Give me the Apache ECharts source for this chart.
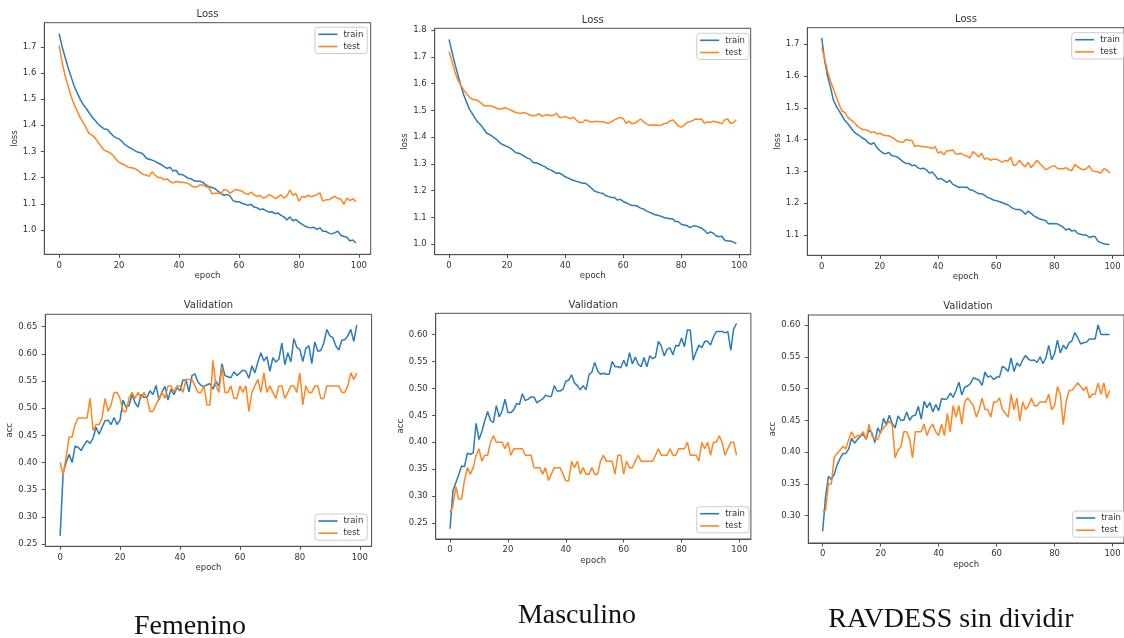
<!DOCTYPE html>
<html><head><meta charset="utf-8">
<script src="https://cdn.jsdelivr.net/npm/echarts@6/dist/echarts.min.js"></script>
<style>html,body{margin:0;padding:0;background:#fff}#c{width:1124px;height:638px}</style>
</head><body><div id="c"></div>
<script>
// ---------- data ----------
const xTicks = [0, 20, 40, 60, 80, 100];
const lossTicksFem = [1.0, 1.1, 1.2, 1.3, 1.4, 1.5, 1.6, 1.7];
const lossTicksMas = [1.0, 1.1, 1.2, 1.3, 1.4, 1.5, 1.6, 1.7, 1.8];
const lossTicksRav = [1.1, 1.2, 1.3, 1.4, 1.5, 1.6, 1.7];
const accTicksFem = [0.25, 0.30, 0.35, 0.40, 0.45, 0.50, 0.55, 0.60, 0.65];
const accTicksMas = [0.25, 0.30, 0.35, 0.40, 0.45, 0.50, 0.55, 0.60];
const accTicksRav = [0.30, 0.35, 0.40, 0.45, 0.50, 0.55, 0.60];
const seriesNames = ['train', 'test'];
const panelTitles = ['Loss', 'Loss', 'Loss', 'Validation', 'Validation', 'Validation'];
const yNames = ['loss', 'loss', 'loss', 'acc', 'acc', 'acc'];
const captions = ['Femenino', 'Masculino', 'RAVDESS sin dividir'];

const femLossTrain = [1.75,1.70,1.66,1.62,1.585,1.55,1.525,1.50,1.48,1.465,
1.448,1.432,1.418,1.405,1.395,1.386,1.385,1.372,1.36,1.352,
1.348,1.338,1.326,1.318,1.312,1.305,1.298,1.296,1.29,1.275,
1.27,1.267,1.262,1.256,1.25,1.242,1.235,1.24,1.225,1.228,
1.212,1.212,1.206,1.198,1.196,1.188,1.186,1.186,1.182,1.172,
1.165,1.162,1.158,1.148,1.14,1.132,1.136,1.13,1.112,1.108,
1.108,1.102,1.098,1.094,1.098,1.088,1.085,1.078,1.08,1.074,
1.068,1.07,1.062,1.065,1.056,1.05,1.038,1.05,1.035,1.04,
1.03,1.022,1.015,1.01,1.008,1.01,1.002,1.008,0.995,0.995,
0.988,0.985,0.99,0.995,0.98,0.975,0.972,0.958,0.962,0.95];
const femLossTest = [1.705,1.64,1.59,1.55,1.51,1.48,1.455,1.43,1.41,1.39,
1.368,1.362,1.352,1.335,1.32,1.305,1.30,1.295,1.285,1.27,
1.258,1.252,1.248,1.24,1.238,1.236,1.23,1.22,1.212,1.21,
1.205,1.222,1.21,1.2,1.2,1.192,1.195,1.185,1.18,1.185,
1.182,1.182,1.18,1.178,1.17,1.164,1.165,1.172,1.172,1.165,
1.162,1.138,1.14,1.14,1.138,1.155,1.152,1.14,1.148,1.155,
1.152,1.148,1.14,1.135,1.145,1.135,1.128,1.132,1.122,1.125,
1.135,1.13,1.12,1.125,1.135,1.122,1.13,1.152,1.132,1.14,
1.11,1.128,1.125,1.132,1.128,1.13,1.135,1.142,1.11,1.115,
1.115,1.122,1.128,1.12,1.118,1.098,1.122,1.112,1.12,1.108];
const masLossTrain = [1.765,1.72,1.675,1.635,1.595,1.56,1.532,1.505,1.488,1.47,
1.455,1.445,1.43,1.415,1.41,1.402,1.395,1.385,1.375,1.37,
1.365,1.36,1.352,1.342,1.34,1.335,1.328,1.322,1.318,1.305,
1.305,1.3,1.295,1.29,1.282,1.278,1.272,1.265,1.266,1.26,
1.252,1.248,1.242,1.238,1.235,1.232,1.228,1.228,1.22,1.21,
1.2,1.195,1.192,1.19,1.182,1.178,1.175,1.175,1.165,1.168,
1.16,1.155,1.15,1.145,1.145,1.142,1.135,1.132,1.125,1.12,
1.115,1.11,1.108,1.105,1.1,1.098,1.095,1.095,1.085,1.085,
1.075,1.072,1.07,1.062,1.068,1.068,1.065,1.06,1.052,1.04,
1.046,1.042,1.032,1.028,1.03,1.015,1.012,1.012,1.008,1.003];
const masLossTest = [1.72,1.685,1.645,1.615,1.595,1.578,1.562,1.55,1.542,1.54,
1.536,1.528,1.518,1.518,1.518,1.515,1.51,1.505,1.505,1.51,
1.508,1.502,1.498,1.492,1.49,1.49,1.492,1.488,1.482,1.48,
1.482,1.488,1.478,1.482,1.484,1.48,1.482,1.49,1.474,1.474,
1.478,1.472,1.47,1.475,1.462,1.455,1.455,1.465,1.46,1.458,
1.458,1.46,1.458,1.458,1.454,1.452,1.458,1.465,1.47,1.474,
1.47,1.452,1.46,1.45,1.452,1.46,1.468,1.458,1.45,1.445,
1.445,1.446,1.445,1.444,1.45,1.452,1.46,1.465,1.455,1.442,
1.438,1.445,1.455,1.458,1.462,1.468,1.466,1.468,1.452,1.458,
1.455,1.46,1.458,1.455,1.45,1.465,1.468,1.452,1.455,1.465];
const ravLossTrain = [1.72,1.65,1.6,1.565,1.525,1.505,1.49,1.475,1.46,1.45,
1.438,1.425,1.418,1.412,1.405,1.4,1.39,1.385,1.39,1.375,
1.365,1.358,1.355,1.36,1.35,1.348,1.345,1.338,1.33,1.325,
1.325,1.318,1.32,1.312,1.308,1.31,1.305,1.295,1.298,1.288,
1.275,1.278,1.272,1.265,1.272,1.26,1.255,1.25,1.25,1.25,
1.25,1.242,1.24,1.235,1.23,1.23,1.225,1.218,1.215,1.21,
1.208,1.205,1.202,1.198,1.195,1.188,1.182,1.18,1.18,1.175,
1.165,1.175,1.168,1.16,1.155,1.15,1.148,1.145,1.135,1.136,
1.135,1.135,1.13,1.125,1.115,1.12,1.112,1.115,1.105,1.102,
1.1,1.1,1.092,1.095,1.095,1.08,1.076,1.072,1.071,1.07];
const ravLossTest = [1.69,1.655,1.615,1.585,1.56,1.535,1.51,1.49,1.485,1.47,
1.462,1.455,1.445,1.438,1.432,1.432,1.428,1.422,1.425,1.418,
1.42,1.415,1.412,1.412,1.408,1.402,1.395,1.392,1.392,1.4,
1.398,1.398,1.378,1.382,1.378,1.378,1.377,1.375,1.372,1.378,
1.358,1.362,1.352,1.365,1.365,1.368,1.355,1.355,1.357,1.35,
1.348,1.342,1.362,1.355,1.345,1.358,1.338,1.342,1.335,1.338,
1.338,1.335,1.328,1.335,1.332,1.345,1.318,1.322,1.335,1.322,
1.315,1.328,1.312,1.322,1.335,1.325,1.315,1.305,1.31,1.315,
1.318,1.31,1.308,1.308,1.312,1.305,1.302,1.322,1.315,1.308,
1.305,1.308,1.318,1.302,1.3,1.298,1.295,1.308,1.305,1.295];
const femAccTrain = [0.265,0.38,0.40,0.415,0.40,0.43,0.428,0.422,0.432,0.44,
0.435,0.445,0.465,0.452,0.465,0.477,0.478,0.47,0.483,0.47,
0.478,0.515,0.502,0.505,0.525,0.51,0.502,0.525,0.52,0.52,
0.532,0.525,0.542,0.515,0.53,0.54,0.515,0.535,0.525,0.538,
0.532,0.552,0.552,0.53,0.56,0.563,0.548,0.542,0.54,0.543,
0.545,0.535,0.55,0.54,0.582,0.56,0.558,0.556,0.567,0.56,
0.565,0.57,0.568,0.555,0.578,0.565,0.585,0.602,0.587,0.595,
0.568,0.593,0.585,0.59,0.62,0.58,0.602,0.585,0.628,0.612,
0.608,0.586,0.61,0.615,0.582,0.622,0.605,0.606,0.62,0.645,
0.633,0.63,0.615,0.607,0.625,0.626,0.633,0.645,0.623,0.653];
const femAccTest = [0.40,0.378,0.41,0.447,0.447,0.47,0.482,0.482,0.482,0.482,
0.518,0.459,0.47,0.47,0.482,0.518,0.494,0.506,0.529,0.529,
0.518,0.494,0.494,0.518,0.529,0.518,0.529,0.518,0.529,0.518,
0.494,0.494,0.506,0.518,0.529,0.518,0.541,0.541,0.529,0.541,
0.541,0.529,0.553,0.553,0.553,0.541,0.529,0.529,0.541,0.506,
0.506,0.588,0.541,0.529,0.576,0.529,0.529,0.541,0.518,0.518,
0.541,0.529,0.541,0.494,0.529,0.541,0.553,0.529,0.565,0.529,
0.541,0.529,0.518,0.541,0.541,0.518,0.529,0.541,0.541,0.529,
0.565,0.506,0.541,0.529,0.529,0.541,0.541,0.518,0.518,0.541,
0.541,0.541,0.541,0.541,0.529,0.529,0.541,0.565,0.553,0.565];
const masAccTrain = [0.24,0.31,0.325,0.34,0.356,0.355,0.38,0.378,0.38,0.435,
0.405,0.42,0.44,0.457,0.44,0.437,0.468,0.447,0.458,0.48,
0.455,0.455,0.46,0.472,0.47,0.49,0.477,0.48,0.484,0.484,
0.473,0.477,0.48,0.487,0.485,0.485,0.505,0.495,0.495,0.498,
0.513,0.515,0.525,0.51,0.505,0.497,0.505,0.497,0.525,0.53,
0.548,0.532,0.526,0.528,0.526,0.526,0.55,0.54,0.54,0.538,
0.552,0.54,0.566,0.545,0.558,0.545,0.54,0.557,0.54,0.56,
0.555,0.558,0.587,0.578,0.56,0.572,0.575,0.562,0.58,0.578,
0.593,0.577,0.608,0.608,0.552,0.567,0.58,0.575,0.587,0.587,
0.58,0.595,0.605,0.605,0.605,0.603,0.605,0.57,0.61,0.62];
const masAccTest = [0.27,0.282,0.318,0.295,0.295,0.33,0.353,0.341,0.353,0.376,
0.388,0.365,0.376,0.376,0.4,0.412,0.4,0.4,0.4,0.388,
0.4,0.376,0.388,0.388,0.388,0.388,0.376,0.376,0.376,0.353,
0.353,0.353,0.341,0.353,0.329,0.341,0.353,0.353,0.353,0.341,
0.329,0.329,0.365,0.353,0.365,0.341,0.353,0.341,0.341,0.353,
0.341,0.341,0.365,0.376,0.365,0.365,0.365,0.341,0.376,0.376,
0.341,0.365,0.353,0.353,0.365,0.376,0.365,0.365,0.365,0.365,
0.365,0.376,0.388,0.376,0.376,0.376,0.388,0.376,0.376,0.388,
0.388,0.388,0.4,0.376,0.376,0.376,0.365,0.4,0.388,0.4,
0.376,0.4,0.4,0.412,0.4,0.376,0.388,0.4,0.4,0.376];
const ravAccTrain = [0.275,0.33,0.362,0.357,0.365,0.38,0.39,0.398,0.398,0.405,
0.422,0.414,0.42,0.425,0.428,0.42,0.435,0.43,0.415,0.438,
0.43,0.453,0.443,0.458,0.445,0.438,0.457,0.45,0.45,0.463,
0.45,0.457,0.458,0.472,0.452,0.48,0.47,0.478,0.463,0.475,
0.465,0.484,0.483,0.484,0.493,0.486,0.497,0.51,0.49,0.502,
0.504,0.508,0.517,0.515,0.513,0.505,0.526,0.518,0.52,0.514,
0.518,0.518,0.535,0.532,0.527,0.548,0.527,0.54,0.535,0.545,
0.552,0.546,0.544,0.545,0.541,0.55,0.539,0.548,0.568,0.545,
0.555,0.576,0.556,0.568,0.562,0.572,0.575,0.588,0.58,0.57,
0.572,0.573,0.578,0.578,0.578,0.60,0.585,0.585,0.585,0.585];
const ravAccTest = [0.308,0.308,0.35,0.35,0.392,0.398,0.403,0.409,0.405,0.42,
0.432,0.422,0.426,0.426,0.432,0.42,0.444,0.426,0.42,0.42,
0.432,0.438,0.443,0.449,0.443,0.391,0.403,0.409,0.432,0.432,
0.42,0.391,0.432,0.432,0.432,0.444,0.426,0.438,0.444,0.432,
0.426,0.444,0.426,0.461,0.432,0.473,0.455,0.473,0.444,0.479,
0.485,0.479,0.473,0.455,0.467,0.485,0.467,0.467,0.455,0.479,
0.479,0.485,0.467,0.461,0.455,0.491,0.467,0.485,0.449,0.479,
0.467,0.473,0.485,0.473,0.473,0.479,0.479,0.479,0.491,0.467,
0.473,0.503,0.491,0.443,0.479,0.497,0.497,0.503,0.509,0.503,
0.497,0.503,0.485,0.491,0.491,0.509,0.491,0.509,0.485,0.497];

// ---------- layout ----------
const panels = [
  {grid:{left:44.3,top:22.7,width:326.4,height:231.6}, y:[0.907,1.792], ticks:lossTicksFem, tr:femLossTrain, te:femLossTest, title:[207.5,14], yname:24, leg:{left:315,top:27.3}, dec:1},
  {grid:{left:434.7,top:28.3,width:316,height:226.4}, y:[0.961,1.807], ticks:lossTicksMas, tr:masLossTrain, te:masLossTest, title:[592.7,20.7], yname:23.5, leg:{left:696.7,top:33.3}, dec:1},
  {grid:{left:807.3,top:27.7,width:317.5,height:227.6}, y:[1.036,1.752], ticks:lossTicksRav, tr:ravLossTrain, te:ravLossTest, title:[966,19], yname:22.5, leg:{left:1071.7,top:32.7}, dec:1},
  {grid:{left:45.3,top:314.3,width:326.3,height:232}, y:[0.2458,0.6728], ticks:accTicksFem, tr:femAccTrain, te:femAccTest, title:[208.5,305], yname:24, leg:{left:315,top:514}, dec:2},
  {grid:{left:435.7,top:313.3,width:315.2,height:225.7}, y:[0.2209,0.6389], ticks:accTicksMas, tr:masAccTrain, te:masAccTest, title:[593.3,305], yname:25.5, leg:{left:696.7,top:506.7}, dec:2},
  {grid:{left:808.3,top:315,width:319.4,height:228}, y:[0.257,0.6157], ticks:accTicksRav, tr:ravAccTrain, te:ravAccTest, title:[968,306], yname:26, leg:{left:1072.7,top:511}, dec:2}
];
const captionPos = [[190,627],[577,616],[951,620]];
const colors = ['#2a7bb8', '#ff8520'];
const txt = '#333';
const font = 'DejaVu Sans';

const option = {animation:false, backgroundColor:'#fff', grid:[], xAxis:[], yAxis:[], series:[], legend:[], graphic:[]};
panels.forEach((p, i) => {
  option.grid.push(Object.assign({show:true, borderColor:'#505050', borderWidth:1, backgroundColor:'transparent', containLabel:false}, p.grid));
  option.xAxis.push({type:'value', gridIndex:i, min:-4.95, max:103.95,
    name:'epoch', nameLocation:'middle', nameGap:17,
    nameTextStyle:{fontFamily:font, fontSize:8.5, color:txt},
    axisLine:{show:true, onZero:false, lineStyle:{color:'#505050', width:1}},
    axisTick:{show:true, length:3.5, lineStyle:{color:'#505050'}, customValues:xTicks},
    axisLabel:{fontFamily:font, fontSize:8.5, color:txt, margin:6.5, customValues:xTicks},
    splitLine:{show:false}});
  option.yAxis.push({type:'value', gridIndex:i, min:p.y[0], max:p.y[1],
    name:yNames[i], nameLocation:'middle', nameGap:p.yname, nameRotate:90,
    nameTextStyle:{fontFamily:font, fontSize:8.5, color:txt},
    axisLine:{show:true, onZero:false, lineStyle:{color:'#505050', width:1}},
    axisTick:{show:true, length:3.5, lineStyle:{color:'#505050'}, customValues:p.ticks},
    axisLabel:{fontFamily:font, fontSize:8.5, color:txt, margin:8, customValues:p.ticks,
      formatter:(v)=>Number(v).toFixed(p.dec)},
    splitLine:{show:false}});
  [p.tr, p.te].forEach((arr, k) => {
    option.series.push({type:'line', name:seriesNames[k], xAxisIndex:i, yAxisIndex:i,
      data:arr.map((v, j) => [j, v]), showSymbol:false, symbol:'none',
      lineStyle:{color:colors[k], width:1.5}, itemStyle:{color:colors[k]}, z:k===0?2:3});
  });
  option.legend.push({data:seriesNames, left:p.leg.left, top:p.leg.top, orient:'vertical',
    icon:'rect', itemWidth:19, itemHeight:1.6, itemGap:3.2,
    padding:[2.5,4,2.5,3.5], borderColor:'#ccc', borderWidth:1, borderRadius:3,
    backgroundColor:'rgba(255,255,255,0.8)',
    textStyle:{fontFamily:font, fontSize:8.5, color:txt, padding:[0,0,0,1]}, selectedMode:false});
  option.graphic.push({type:'text', x:p.title[0], y:p.title[1],
    style:{text:panelTitles[i], font:'10px "DejaVu Sans"', fill:txt, align:'center', verticalAlign:'middle'}});
});
captions.forEach((c, i) => {
  option.graphic.push({type:'text', x:captionPos[i][0], y:captionPos[i][1],
    style:{text:c, font:'28px "Liberation Serif"', fill:'#111', align:'center', verticalAlign:'middle'}});
});
const chart = echarts.init(document.getElementById('c'), null, {renderer:'canvas'});
chart.setOption(option);
</script></body></html>
